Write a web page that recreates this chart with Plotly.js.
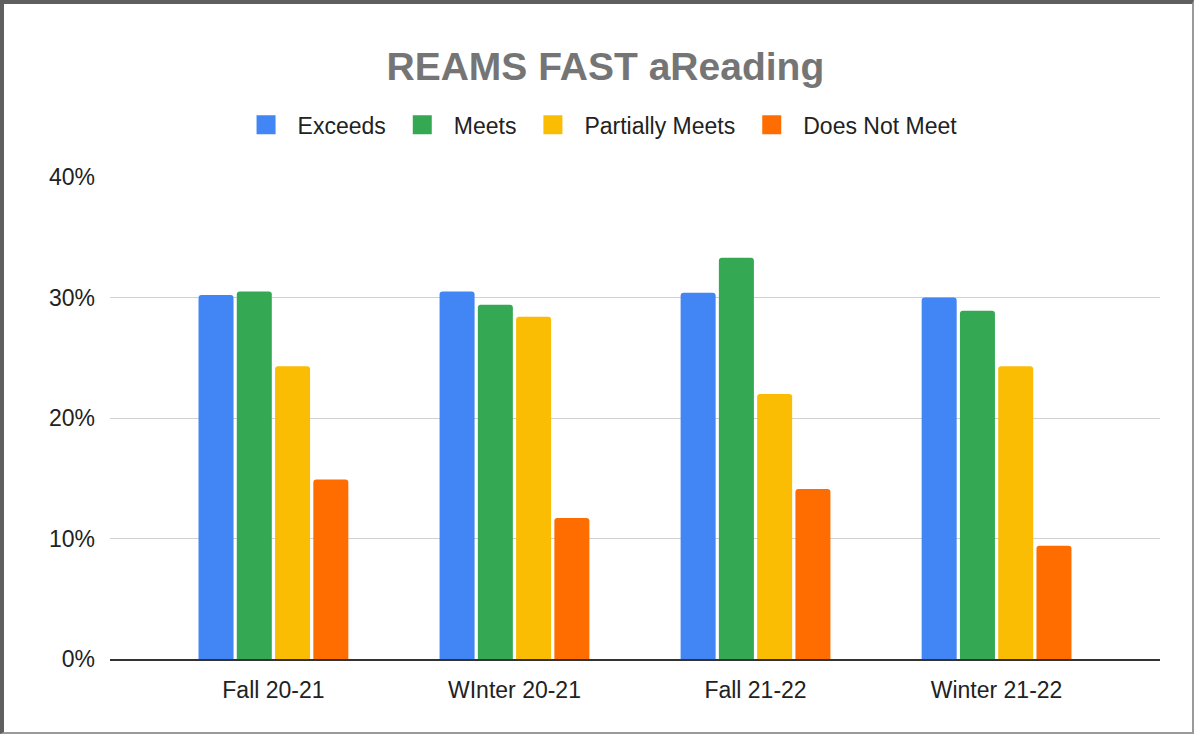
<!DOCTYPE html>
<html>
<head>
<meta charset="utf-8">
<script src="https://cdn.plot.ly/plotly-3.0.1.min.js"></script>
<style>
  html, body { margin: 0; padding: 0; background: #fff; }
  #wrap { position: relative; width: 1194px; height: 734px; }
  #chart { width: 1194px; height: 734px; }
  #frame { position: absolute; left: 0; top: 0; width: 1194px; height: 734px; box-sizing: border-box;
           border-left: 4px solid #5f5f5f; border-top: 4px solid #5f5f5f;
           border-right: 2px solid #9a9a9a; border-bottom: 2px solid #9a9a9a; pointer-events: none; }
</style>
</head>
<body>
<div id="wrap">
  <div id="chart"></div>
  <div id="frame"></div>
</div>
<script>
const categories = ["Fall 20-21", "WInter 20-21", "Fall 21-22", "Winter 21-22"];
const seriesNames = ["Exceeds", "Meets", "Partially Meets", "Does Not Meet"];
const exceeds = [30.2, 30.5, 30.4, 30.0];
const meets = [30.5, 29.4, 33.3, 28.9];
const partiallyMeets = [24.3, 28.4, 22.0, 24.3];
const doesNotMeet = [14.9, 11.7, 14.1, 9.4];
const yTickVals = [0, 10, 20, 30, 40];
const yTickText = ["0%", "10%", "20%", "30%", "40%"];
const colors = ["#4285F4", "#34A853", "#FBBC04", "#FF6D01"];

const seriesValues = [exceeds, meets, partiallyMeets, doesNotMeet];
const traces = seriesValues.map((vals, i) => ({
  type: "bar",
  name: seriesNames[i],
  x: categories,
  y: vals,
  marker: { color: colors[i], line: { width: 0 } },
  hoverinfo: "x+y+name"
}));

const font = "Liberation Sans, Arial, sans-serif";
const layout = {
  width: 1194,
  height: 734,
  margin: { l: 110, r: 34, t: 177, b: 75 },
  paper_bgcolor: "#ffffff",
  plot_bgcolor: "#ffffff",
  font: { family: font, size: 23, color: "#222" },
  title: {
    text: "<b>REAMS FAST aReading</b>",
    font: { family: font, size: 39, color: "#757575" },
    x: 0.507, xanchor: "center", xref: "container",
    y: 0.91, yanchor: "middle", yref: "container"
  },
  showlegend: true,
  legend: {
    orientation: "h",
    xref: "container", yref: "container",
    x: 0.5013, xanchor: "center",
    y: 0.83, yanchor: "middle",
    itemwidth: 53,
    font: { family: font, size: 23, color: "#222" },
    traceorder: "normal"
  },
  barmode: "group",
  bargap: 0.365,
  bargroupgap: 0.085,
  barcornerradius: 3,
  xaxis: {
    type: "category",
    range: [-0.678, 3.678],
    showgrid: false,
    zeroline: false,
    showline: true,
    linecolor: "#333",
    linewidth: 2,
    ticks: "",
    ticklabelstandoff: 9,
    tickfont: { family: font, size: 23, color: "#222" },
    fixedrange: true
  },
  yaxis: {
    range: [0, 40],
    tickvals: yTickVals,
    ticktext: yTickText,
    showgrid: true,
    gridcolor: "#d0d0d0",
    gridwidth: 1,
    zeroline: false,
    showline: false,
    ticks: "",
    ticklabelstandoff: 14,
    tickfont: { family: font, size: 23, color: "#222" },
    fixedrange: true
  }
};

Plotly.newPlot("chart", traces, layout, { displayModeBar: false, staticPlot: true }).then(gd => {
  // enlarge the legend colour squares to match the reference
  gd.querySelectorAll(".legend .legendpoints path").forEach(p => {
    p.setAttribute("d", "M9.5,9.5H-9.5V-9.5H9.5Z");
  });
});
</script>
</body>
</html>
